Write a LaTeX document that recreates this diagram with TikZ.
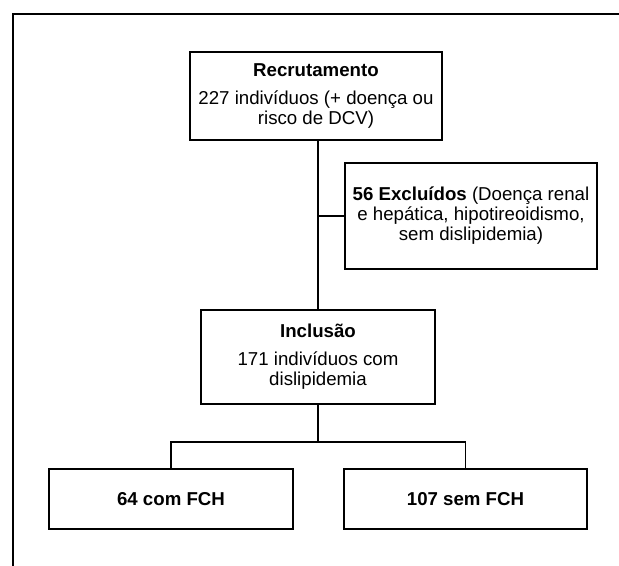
\documentclass[tikz,border=0pt]{standalone}
\usepackage{fontspec}
\setmainfont{Liberation Sans}
\begin{document}
\begin{tikzpicture}[x=0.75pt,y=-0.75pt,
  box/.style={draw, line width=1.2pt, inner sep=0pt, align=center,
    font=\fontsize{14pt}{15pt}\selectfont},
  conn/.style={line width=1.1pt},
  frame/.style={line width=2pt}]
\useasboundingbox (0,0) rectangle (619,566);
\draw[frame] (13,566) -- (13,14) -- (619,14);

\node[box, minimum width=189pt, minimum height=66pt] (rec) at (316,96)
  {\textbf{Recrutamento}\\[6pt]227 indivíduos (+ doença ou\\risco de DCV)};
\node[box, minimum width=189pt, minimum height=79.5pt] (exc) at (471,216)
  {\textbf{56 Excluídos} (Doença renal\\e hepática, hipotireoidismo,\\sem dislipidemia)};
\node[box, minimum width=175.5pt, minimum height=70.5pt] (inc) at (318,357)
  {\textbf{Inclusão}\\[6pt]171 indivíduos com\\dislipidemia};
\node[box, minimum width=183pt, minimum height=45pt] (com) at (171,499)
  {\textbf{64 com FCH}};
\node[box, minimum width=182.25pt, minimum height=45pt] (sem) at (465.5,499)
  {\textbf{107 sem FCH}};

\coordinate (split) at (318,442);
\draw[conn] (rec.south -| inc.north) -- (inc.north);
\draw[conn] (inc.north |- exc.west) -- (exc.west);
\draw[conn] (inc.south) -- (split);
\draw[conn] (com.north) |- (split) -| (sem.north);
\end{tikzpicture}
\end{document}
